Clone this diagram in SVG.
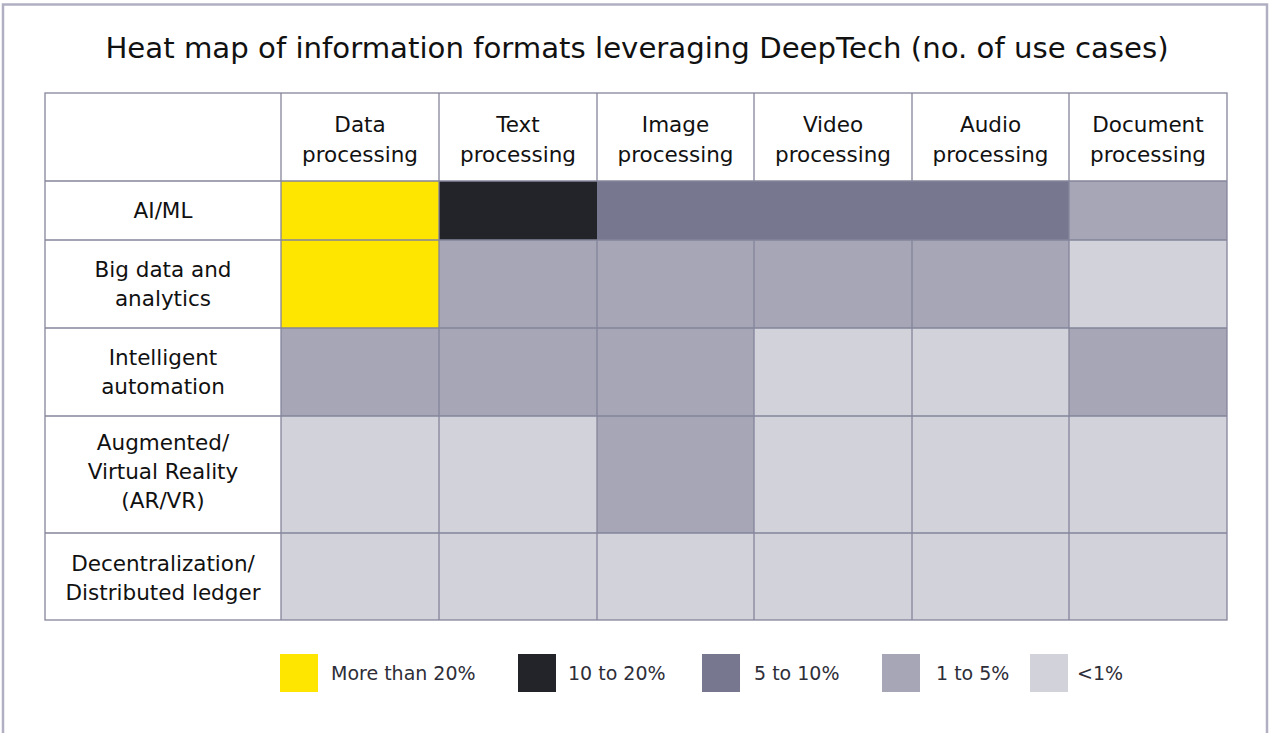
<svg xmlns="http://www.w3.org/2000/svg" width="1270" height="733" viewBox="0 0 1270 733">
  <style>
    .t { font-family: "DejaVu Sans", "Liberation Sans", sans-serif; fill: #111; }
    .title { font-size: 29.2px; }
    .h { font-size: 21.5px; text-anchor: middle; }
    .lg { font-size: 19px; fill: #2e2e38; }
    .grid { stroke: #85859c; stroke-width: 1.3; fill: none; }
    .c5 { fill: #ffe600; }
    .c4 { fill: #23242a; }
    .c3 { fill: #77778f; }
    .c2 { fill: #a6a6b6; }
    .c1 { fill: #d2d2da; }
  </style>

  <rect x="0" y="0" width="1270" height="733" fill="#ffffff"/>
  <!-- outer frame -->
  <path d="M3 740 V4.5 H1267 V740" fill="none" stroke="#b0b0c2" stroke-width="2.5"/>

  <text class="t title" x="637" y="58" text-anchor="middle">Heat map of information formats leveraging DeepTech (no. of use cases)</text>

  <!-- heat cells -->
  <g id="cells">
    <!-- AI/ML -->
    <rect class="c5" x="281" y="181" width="158" height="59"/>
    <rect class="c4" x="439" y="181" width="158" height="59"/>
    <rect class="c3" x="597" y="181" width="472" height="59"/>
    <rect class="c2" x="1069" y="181" width="158" height="59"/>
    <!-- Big data and analytics -->
    <rect class="c5" x="281" y="240" width="158" height="88"/>
    <rect class="c2" x="439" y="240" width="630" height="88"/>
    <rect class="c1" x="1069" y="240" width="158" height="88"/>
    <!-- Intelligent automation -->
    <rect class="c2" x="281" y="328" width="473" height="88"/>
    <rect class="c1" x="754" y="328" width="315" height="88"/>
    <rect class="c2" x="1069" y="328" width="158" height="88"/>
    <!-- AR/VR -->
    <rect class="c1" x="281" y="416" width="316" height="117"/>
    <rect class="c2" x="597" y="416" width="157" height="117"/>
    <rect class="c1" x="754" y="416" width="473" height="117"/>
    <!-- Decentralization -->
    <rect class="c1" x="281" y="533" width="946" height="87"/>
  </g>

  <!-- grid lines -->
  <g id="connectors" class="grid">
    <rect x="45" y="93" width="1182" height="527"/>
    <path d="M45 181 H1227 M45 240 H1227 M45 328 H1227 M45 416 H1227 M45 533 H1227"/>
    <path d="M281 93 V620 M439 93 V620 M1069 93 V620"/>
    <path d="M597 93 V181 M597 240 V620 M754 93 V181 M754 240 V620 M912 93 V181 M912 240 V620"/>
  </g>

  <!-- column headers -->
  <g id="headers">
    <text class="t h" x="360" y="132">Data</text><text class="t h" x="360" y="162">processing</text>
    <text class="t h" x="518" y="132">Text</text><text class="t h" x="518" y="162">processing</text>
    <text class="t h" x="675.5" y="132">Image</text><text class="t h" x="675.5" y="162">processing</text>
    <text class="t h" x="833" y="132">Video</text><text class="t h" x="833" y="162">processing</text>
    <text class="t h" x="990.5" y="132">Audio</text><text class="t h" x="990.5" y="162">processing</text>
    <text class="t h" x="1148" y="132">Document</text><text class="t h" x="1148" y="162">processing</text>
  </g>

  <!-- row labels -->
  <g id="rows">
    <text class="t h" x="163" y="218">AI/ML</text>
    <text class="t h" x="163" y="277">Big data and</text><text class="t h" x="163" y="306">analytics</text>
    <text class="t h" x="163" y="365">Intelligent</text><text class="t h" x="163" y="394">automation</text>
    <text class="t h" x="163" y="450">Augmented/</text><text class="t h" x="163" y="479">Virtual Reality</text><text class="t h" x="163" y="508">(AR/VR)</text>
    <text class="t h" x="163" y="571">Decentralization/</text><text class="t h" x="163" y="600">Distributed ledger</text>
  </g>

  <!-- legend -->
  <g id="legend">
    <rect class="c5" x="280" y="654" width="38" height="38"/>
    <text class="t lg" x="331" y="680">More than 20%</text>
    <rect class="c4" x="518" y="654" width="38" height="38"/>
    <text class="t lg" x="568" y="680">10 to 20%</text>
    <rect class="c3" x="702" y="654" width="38" height="38"/>
    <text class="t lg" x="754" y="680">5 to 10%</text>
    <rect class="c2" x="882" y="654" width="38" height="38"/>
    <text class="t lg" x="936" y="680">1 to 5%</text>
    <rect class="c1" x="1030" y="654" width="38" height="38"/>
    <text class="t lg" x="1077" y="680">&lt;1%</text>
  </g>
</svg>
